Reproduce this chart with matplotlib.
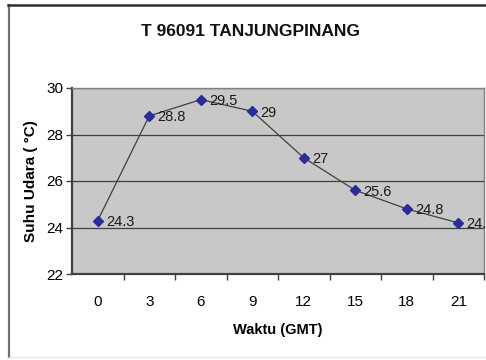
import matplotlib
matplotlib.use("Agg")
import matplotlib.pyplot as plt
from matplotlib import font_manager

# Hourly air temperature at station 96091 (Tanjungpinang)
hours = ["0", "3", "6", "9", "12", "15", "18", "21"]
temps = [24.3, 28.8, 29.5, 29, 27, 25.6, 24.8, 24.2]
y_ticks = [22, 24, 26, 28, 30]

names = {f.name for f in font_manager.fontManager.ttflist}
family = ["Liberation Sans Narrow", "Liberation Sans", "DejaVu Sans"]
family = [f for f in family if f in names] or ["DejaVu Sans"]
plt.rcParams["font.family"] = family

fig = plt.figure(figsize=(4.86, 3.6), dpi=100)
fig.patch.set_facecolor("white")

# chart frame
fig.add_artist(plt.Line2D([9 / 486, 9 / 486], [1 - 5 / 360, 1 - 357 / 360],
                          color="#707070", lw=1.6, transform=fig.transFigure))
fig.add_artist(plt.Line2D([8 / 486, 1.0], [1 - 5 / 360, 1 - 5 / 360],
                          color="#303030", lw=1.8, transform=fig.transFigure))
fig.add_artist(plt.Line2D([9 / 486, 1.0], [1 - 357 / 360, 1 - 357 / 360],
                          color="#e6e6e6", lw=1.0, transform=fig.transFigure))

ax = fig.add_axes([72 / 486, 1 - 274 / 360, 412 / 486, 186 / 360])
ax.set_facecolor("#c8c8c8")

x = list(range(len(hours)))
ax.plot(x, temps, color="#404040", lw=0.9, zorder=3)
ax.plot(x, temps, ls="none", marker="D", ms=5, color="#2b2b9a",
        markeredgecolor="#2b2b9a", zorder=4)
for xi, v in zip(x, temps):
    ax.annotate(f"{v:g}", (xi, v), xytext=(6, -1), textcoords="offset points",
                ha="left", va="center", fontsize=10.5, color="#1a1a1a",
                annotation_clip=False, zorder=5)

ax.set_xlim(-0.5, len(hours) - 0.5)
ax.set_ylim(22, 30)
ax.set_yticks(y_ticks)
ax.set_yticklabels([str(t) for t in y_ticks], fontsize=11)
ax.set_xticks(x)
ax.set_xticklabels(hours, fontsize=11)
ax.set_xticks([i + 0.5 for i in x], minor=True)
ax.tick_params(axis="x", which="major", length=0, pad=15)
ax.tick_params(axis="x", which="minor", length=4, width=1, color="#404040",
               direction="out")
ax.tick_params(axis="y", length=4, width=1, color="#404040", pad=2)

ax.grid(axis="y", color="#404040", lw=0.9)
ax.set_axisbelow(True)
for side in ("top", "right"):
    ax.spines[side].set_color("#808080")
    ax.spines[side].set_linewidth(1.0)
for side in ("left", "bottom"):
    ax.spines[side].set_color("#404040")
    ax.spines[side].set_linewidth(1.6)

ax.set_xlabel("Waktu (GMT)", fontsize=10.5, fontweight="bold", labelpad=10)
ax.set_ylabel("Suhu Udara ( °C)", fontsize=11, fontweight="bold", labelpad=6)

fig.text(250 / 486, 1 - 32 / 360, "T 96091 TANJUNGPINANG", ha="center",
         va="center", fontsize=12.5, fontweight="bold", color="#111111")

fig.savefig("out.png", dpi=100)
